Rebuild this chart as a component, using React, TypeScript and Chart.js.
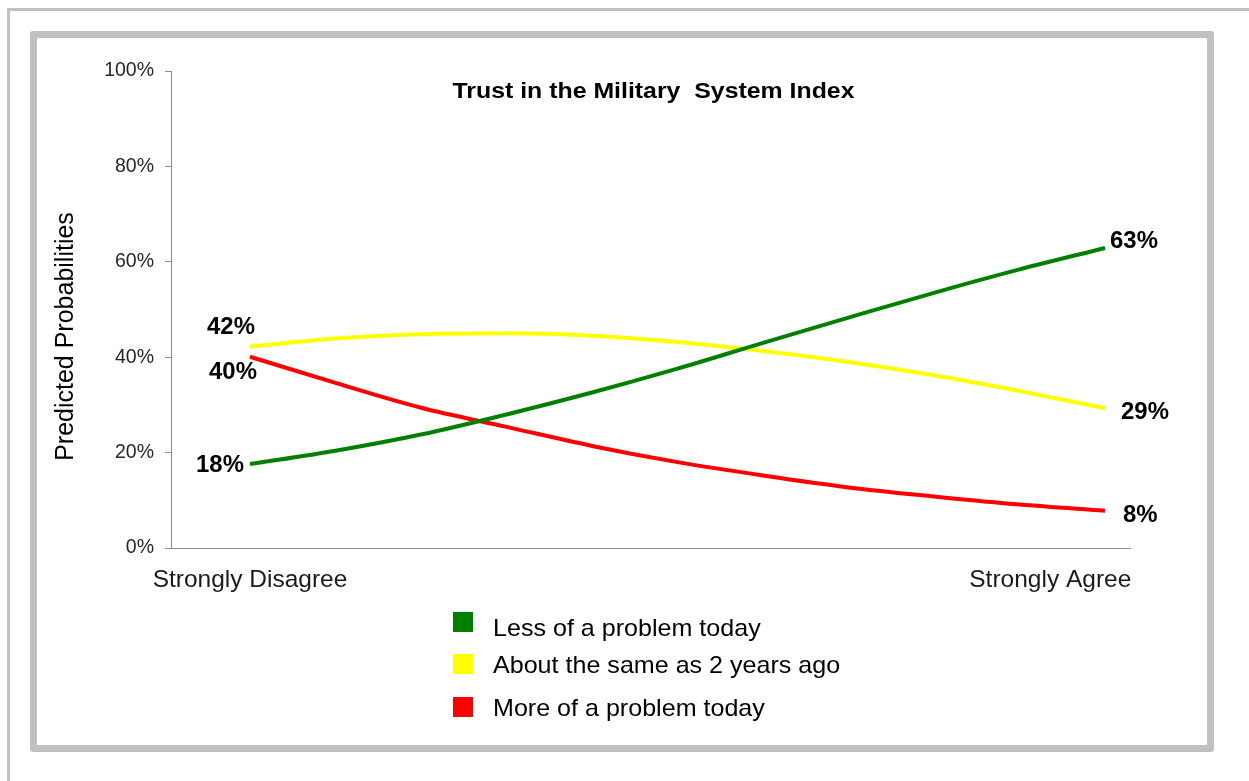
import React, { useEffect, useRef } from 'react';
import { Chart, registerables } from 'chart.js';

Chart.register(...registerables);

// ---------- data ----------
const chartTitle = 'Trust in the Military  System Index';
const yAxisTitle = 'Predicted Probabilities';
const positions = [0, 10, 20, 30, 40, 50, 60, 70, 80, 90, 100];
const lessProblem = [17.6, 20.4, 23.8, 28.0, 32.6, 37.6, 43.0, 48.3, 53.5, 58.4, 62.9];
const aboutSame = [42.2, 43.9, 44.8, 45.0, 44.5, 43.2, 41.3, 39.0, 36.2, 32.9, 29.3];
const moreProblem = [40.1, 34.6, 29.4, 25.4, 21.4, 18.0, 15.2, 12.7, 10.8, 9.1, 7.8];
const seriesNames = ['Less of a problem today', 'About the same as 2 years ago', 'More of a problem today'];
const seriesColors = ['#008000', '#ffff00', '#ff0000'];
const xTickLabels = ['Strongly Disagree', 'Strongly Agree'];
const xTickValues = [0, 93.6];
const yTickValues = [0, 20, 40, 60, 80, 100];

const FONT = '"Liberation Sans", Arial, Helvetica, sans-serif';

// label placement (style): offsets from first / last point
const startOffsets = [
  { dx: -30, dy: 2 },
  { dx: -19, dy: -19 },
  { dx: -17, dy: 16 },
];
const endOffsets = [
  { dx: 5, dy: -6 },
  { dx: 16, dy: 4 },
  { dx: 18, dy: 5 },
];

function drawStretched(
  ctx: CanvasRenderingContext2D,
  text: string,
  x: number,
  y: number,
  sx: number,
) {
  ctx.save();
  ctx.translate(x, y);
  ctx.scale(sx, 1);
  ctx.fillText(text, 0, 0);
  ctx.restore();
}

const textPlugin = {
  id: 'customTexts',
  afterDraw(chart: any) {
    const ctx = chart.ctx as CanvasRenderingContext2D;
    const area = chart.chartArea;
    ctx.save();
    // title
    ctx.fillStyle = '#000';
    ctx.font = `bold 22px ${FONT}`;
    ctx.textAlign = 'center';
    ctx.textBaseline = 'middle';
    drawStretched(ctx, chartTitle, (area.left + area.right) / 2 + 3, area.top + 21, 1.13);

    // y axis title
    ctx.save();
    ctx.translate(66, (area.top + area.bottom) / 2 + 27);
    ctx.rotate(-Math.PI / 2);
    ctx.font = `25px ${FONT}`;
    ctx.fillStyle = '#000';
    ctx.textAlign = 'center';
    ctx.textBaseline = 'middle';
    ctx.fillText(yAxisTitle, 0, 0);
    ctx.restore();

    // data labels
    ctx.font = `bold 23px ${FONT}`;
    ctx.fillStyle = '#000';
    ctx.textBaseline = 'middle';
    chart.data.datasets.forEach((ds: any, i: number) => {
      const meta = chart.getDatasetMeta(i);
      const pts = meta.data;
      const first = pts[0];
      const last = pts[pts.length - 1];
      const v0 = Math.round(ds.data[0].y) + '%';
      const v1 = Math.round(ds.data[ds.data.length - 1].y) + '%';
      ctx.textAlign = 'center';
      drawStretched(ctx, v0, first.x + startOffsets[i].dx, first.y + startOffsets[i].dy, 1.04);
      ctx.textAlign = 'left';
      drawStretched(ctx, v1, last.x + endOffsets[i].dx, last.y + endOffsets[i].dy, 1.04);
    });

    // legend
    const boxX = 453;
    const boxSize = 20;
    const boxCenters = [622, 664, 707];
    const baselines = [636, 673, 716];
    ctx.font = `24px ${FONT}`;
    ctx.textAlign = 'left';
    ctx.textBaseline = 'alphabetic';
    chart.data.datasets.forEach((ds: any, i: number) => {
      ctx.fillStyle = ds.borderColor;
      ctx.fillRect(boxX, boxCenters[i] - boxSize / 2, boxSize, boxSize);
      ctx.fillStyle = '#000';
      drawStretched(ctx, ds.label, 493, baselines[i], 1.045);
    });
    ctx.restore();
  },
};

export default function App() {
  const canvasRef = useRef<HTMLCanvasElement | null>(null);

  useEffect(() => {
    if (!canvasRef.current) return;
    const makeData = (vals: number[]) => vals.map((v, i) => ({ x: positions[i], y: v }));
    const valuesList = [lessProblem, aboutSame, moreProblem];
    const chart = new Chart(canvasRef.current, {
      type: 'line',
      data: {
        datasets: valuesList.map((vals, i) => ({
          label: seriesNames[i],
          data: makeData(vals),
          borderColor: seriesColors[i],
          backgroundColor: seriesColors[i],
          borderWidth: 4,
          pointRadius: 0,
          tension: 0.4,
          cubicInterpolationMode: 'monotone' as const,
          fill: false,
        })),
      },
      options: {
        responsive: false,
        animation: false,
        devicePixelRatio: 1,
        layout: { padding: { left: 30, right: 119, top: 71, bottom: 173 } },
        plugins: {
          legend: { display: false },
          title: { display: false },
          tooltip: { enabled: false },
        },
        scales: {
          x: {
            type: 'linear',
            min: -9.24,
            max: 102.92,
            afterBuildTicks: (scale: any) => {
              scale.ticks = xTickValues.map((v) => ({ value: v }));
            },
            afterFit: (scale: any) => {
              scale.height = 60;
              scale.paddingLeft = 0;
              scale.paddingRight = 0;
            },
            grid: { display: false, drawTicks: false },
            border: { display: true, color: '#8c8c8c', width: 1 },
            ticks: {
              autoSkip: false,
              maxRotation: 0,
              minRotation: 0,
              padding: 18,
              color: '#1a1a1a',
              font: { family: FONT, size: 24.5 },
              callback: (v: any) => {
                const idx = xTickValues.indexOf(Number(v));
                return idx >= 0 ? xTickLabels[idx] : '';
              },
            },
          },
          y: {
            type: 'linear',
            min: 0,
            max: 100,
            afterBuildTicks: (scale: any) => {
              scale.ticks = yTickValues.map((v) => ({ value: v }));
            },
            afterFit: (scale: any) => {
              scale.width = 141;
              scale.paddingTop = 0;
              scale.paddingBottom = 0;
            },
            grid: {
              display: true,
              drawOnChartArea: false,
              drawTicks: true,
              tickLength: 6,
              color: '#8c8c8c',
            },
            border: { display: true, color: '#8c8c8c', width: 1 },
            ticks: {
              padding: 11,
              color: '#262626',
              font: { family: FONT, size: 19.5 },
              callback: (v: any) => `${v}%`,
            },
          },
        },
      },
      plugins: [textPlugin],
    });
    return () => chart.destroy();
  }, []);

  return (
    <div style={{ position: 'fixed', left: 0, top: 0, width: 1249, height: 781, background: '#fff', overflow: 'hidden' }}>
      <div
        style={{
          position: 'absolute',
          left: 7,
          top: 8,
          width: 1400,
          height: 900,
          borderLeft: '3px solid #c0c0c0',
          borderTop: '3px solid #c0c0c0',
        }}
      />
      <div
        style={{
          position: 'absolute',
          left: 30,
          top: 31,
          width: 1184,
          height: 721,
          boxSizing: 'border-box',
          border: '7px solid #c0c0c0',
          borderRadius: 3,
        }}
      />
      <canvas
        ref={canvasRef}
        width={1249}
        height={781}
        style={{ position: 'absolute', left: 0, top: 0, width: 1249, height: 781 }}
      />
    </div>
  );
}
